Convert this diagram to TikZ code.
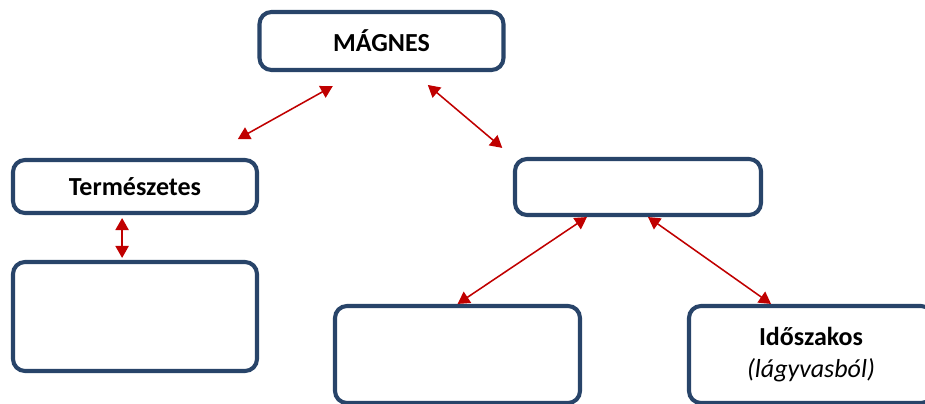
\documentclass[tikz,border=0pt]{standalone}
\usepackage{fontspec}
\setmainfont{Carlito}
\usetikzlibrary{calc}
\usetikzlibrary{arrows.meta}
\definecolor{boxblue}{RGB}{40,68,105}
\definecolor{arrowred}{RGB}{192,0,0}
\tikzstyle{box} = [rectangle, rounded corners=0.3cm, minimum width=6.1cm, minimum height=1.4cm, inner sep=0pt, text centered, draw=boxblue, line width=2.9pt, fill=white, font=\fontsize{18.5}{22.8}\selectfont\bfseries]
\tikzstyle{arrow} = [draw=arrowred, line width=1.1pt, <->, >={Triangle[length=0.3cm,width=0.33cm]}]

\begin{document}
\begin{tikzpicture}
  \useasboundingbox (0,0) rectangle (23.125,-10.075);
  % boxes
  \node[box, minimum height=1.45cm] (magnes) at (9.5375,-1.025) {MÁGNES};
  \node[box, minimum height=1.325cm] (termeszetes) at (3.375,-4.6625) {Természetes};
  \node[box, minimum height=2.725cm] (termures) at (3.375,-7.9125) {};
  \node[box, minimum width=6.15cm] (mesterseges) at (15.95,-4.675) {};
  \node[box, minimum width=6.125cm, minimum height=2.425cm] (mestures) at (11.4375,-8.8625) {};
  \node[box, minimum height=2.425cm, align=center] (idoszakos) at (20.275,-8.8625)
    {Időszakos\\{\mdseries\itshape (lágyvasból)}};
  % arrows
  \draw[arrow, shorten <=0.72cm, shorten >=0.97cm]
    ($(magnes.south west)!0.405!(magnes.south east)$) -- ($(termeszetes.north west)!0.778!(termeszetes.north east)$);
  \draw[arrow, shorten <=0.5cm, shorten >=0.35cm]
    ($(magnes.south west)!0.625!(magnes.south east)$) -- (mesterseges.north west);
  \draw[arrow, shorten <=0.075cm, shorten >=0.05cm]
    ($(termeszetes.south west)!0.448!(termeszetes.south east)$) -- ($(termures.north west)!0.448!(termures.north east)$);
  \draw[arrow] ($(mesterseges.south west)!0.296!(mesterseges.south east)$) -- (mestures.north);
  \draw[arrow] ($(mesterseges.south west)!0.54!(mesterseges.south east)$) -- ($(idoszakos.north west)!0.339!(idoszakos.north east)$);
\end{tikzpicture}
\end{document}
